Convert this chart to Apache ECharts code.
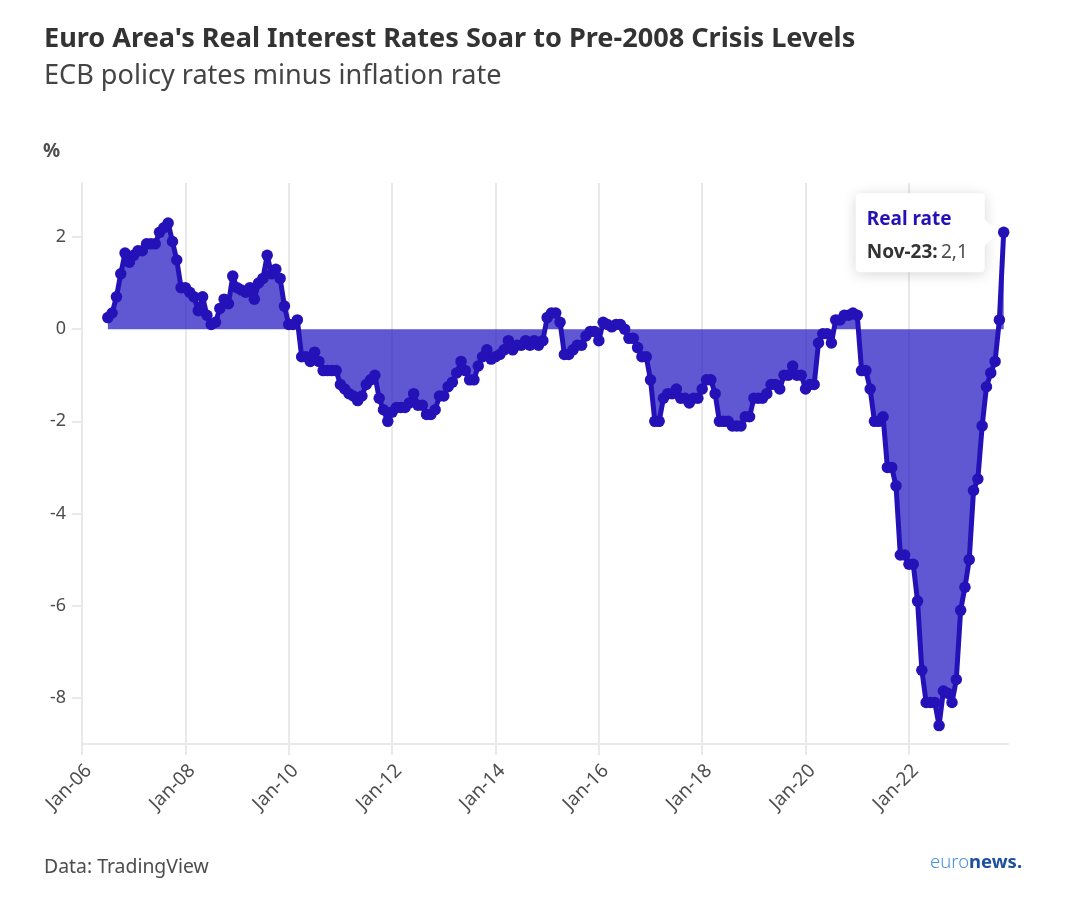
<!DOCTYPE html>
<html>
<head>
<meta charset="utf-8">
<title>Euro Area real interest rates</title>
<script src="https://cdn.jsdelivr.net/npm/echarts@6/dist/echarts.min.js"></script>
<style>
html, body { margin: 0; padding: 0; background: #fff; }
#chart { width: 1085px; height: 919px; }
</style>
</head>
<body>
<div id="chart"></div>
<script>
var titleText = "Euro Area's Real Interest Rates Soar to Pre-2008 Crisis Levels";
var subtitleText = 'ECB policy rates minus inflation rate';
var unitText = '%';
var sourceText = 'Data: TradingView';
var seriesName = 'Real rate';
var calloutLabel = 'Nov-23:';
var calloutValue = '2,1';

var monthNames = ['Jan', 'Feb', 'Mar', 'Apr', 'May', 'Jun', 'Jul', 'Aug', 'Sep', 'Oct', 'Nov', 'Dec'];
var years = ['06', '07', '08', '09', '10', '11', '12', '13', '14', '15', '16', '17', '18', '19', '20', '21', '22', '23'];
var yTicks = [-8, -6, -4, -2, 0, 2];

// nothing before Jul-06
var blank06 = [null, null, null, null, null, null];
var rate06 = [0.25, 0.35, 0.7, 1.2, 1.65, 1.45];
var rate07 = [1.6, 1.7, 1.7, 1.85, 1.85, 1.85, 2.1, 2.2, 2.3, 1.9, 1.5, 0.9];
var rate08 = [0.9, 0.8, 0.7, 0.4, 0.7, 0.3, 0.1, 0.15, 0.45, 0.65, 0.55, 1.15];
var rate09 = [0.9, 0.85, 0.8, 0.9, 0.65, 1.0, 1.1, 1.6, 1.2, 1.3, 1.1, 0.5];
var rate10 = [0.1, 0.1, 0.2, -0.6, -0.6, -0.7, -0.5, -0.7, -0.9, -0.9, -0.9, -0.9];
var rate11 = [-1.2, -1.3, -1.4, -1.45, -1.55, -1.45, -1.2, -1.1, -1.0, -1.5, -1.75, -2.0];
var rate12 = [-1.8, -1.7, -1.7, -1.7, -1.6, -1.4, -1.65, -1.65, -1.85, -1.85, -1.75, -1.45];
var rate13 = [-1.45, -1.25, -1.15, -0.95, -0.7, -0.9, -1.1, -1.1, -0.8, -0.6, -0.45, -0.65];
var rate14 = [-0.6, -0.55, -0.45, -0.25, -0.45, -0.35, -0.35, -0.25, -0.35, -0.25, -0.35, -0.25];
var rate15 = [0.25, 0.35, 0.35, 0.15, -0.55, -0.55, -0.45, -0.35, -0.35, -0.15, -0.05, -0.05];
var rate16 = [-0.25, 0.15, 0.1, 0.05, 0.1, 0.1, 0, -0.2, -0.2, -0.4, -0.6, -0.6];
var rate17 = [-1.1, -2.0, -2.0, -1.5, -1.4, -1.4, -1.3, -1.5, -1.5, -1.6, -1.5, -1.5];
var rate18 = [-1.3, -1.1, -1.1, -1.4, -2.0, -2.0, -2.0, -2.1, -2.1, -2.1, -1.9, -1.9];
var rate19 = [-1.5, -1.5, -1.5, -1.4, -1.2, -1.2, -1.3, -1.0, -1.0, -0.8, -1.0, -1.0];
var rate20 = [-1.3, -1.2, -1.2, -0.3, -0.1, -0.1, -0.3, 0.2, 0.2, 0.3, 0.3, 0.35];
var rate21 = [0.3, -0.9, -0.9, -1.3, -2.0, -2.0, -1.9, -3.0, -3.0, -3.4, -4.9, -4.9];
var rate22 = [-5.1, -5.1, -5.9, -7.4, -8.1, -8.1, -8.1, -8.6, -7.85, -7.9, -8.1, -7.6];
var rate23 = [-6.1, -5.6, -5.0, -3.5, -3.25, -2.1, -1.25, -0.95, -0.7, 0.2, 2.1, null];

var values = blank06.concat(rate06, rate07, rate08, rate09, rate10, rate11, rate12, rate13,
    rate14, rate15, rate16, rate17, rate18, rate19, rate20, rate21, rate22, rate23);

var categories = [];
years.forEach(function(y) {
    monthNames.forEach(function(m) {
        categories.push(m + '-' + y);
    });
});

var fontName = '"Noto Sans", sans-serif';
var inkDark = '#333333';
var inkMid = '#4d4d4d';
var lineColor = '#2412b8';
var ruleColor = '#e9e9e9';

var myChart = echarts.init(document.getElementById('chart'));

var option = {
    animation: false,
    backgroundColor: '#ffffff',
    textStyle: { fontFamily: fontName },
    title: [{
        text: titleText,
        left: 39,
        top: 21,
        textStyle: { fontFamily: fontName, fontSize: 27.1, fontWeight: 700, color: inkDark }
    }, {
        text: subtitleText,
        left: 39,
        top: 58,
        textStyle: { fontFamily: fontName, fontSize: 27.1, fontWeight: 400, color: '#444444' }
    }, {
        text: unitText,
        left: 38,
        top: 137,
        textStyle: { fontFamily: fontName, fontSize: 19, fontWeight: 700, color: inkMid }
    }, {
        text: sourceText,
        left: 39,
        top: 853,
        textStyle: { fontFamily: fontName, fontSize: 19.4, fontWeight: 400, color: inkMid }
    }],
    grid: { left: 82, right: 77, top: 183, bottom: 175, containLabel: false },
    xAxis: {
        type: 'category',
        data: categories,
        boundaryGap: false,
        axisLine: { show: true, onZero: false, lineStyle: { color: ruleColor, width: 2 } },
        axisTick: { show: true, interval: 23, length: 11, lineStyle: { color: ruleColor, width: 2 } },
        splitLine: { show: true, interval: 23, lineStyle: { color: ruleColor, width: 2 } },
        axisLabel: {
            interval: 23,
            rotate: 45,
            margin: 17,
            verticalAlign: 'top',
            fontSize: 19,
            color: inkMid,
            fontFamily: fontName
        }
    },
    yAxis: {
        type: 'value',
        min: -9,
        max: 3.17,
        axisLine: { show: true, lineStyle: { color: ruleColor, width: 2 } },
        axisTick: { show: true, length: 10, customValues: yTicks, lineStyle: { color: ruleColor, width: 2 } },
        splitLine: { show: false },
        axisLabel: {
            customValues: yTicks,
            margin: 16,
            fontSize: 18,
            color: inkMid,
            fontFamily: fontName
        }
    },
    series: [{
        name: seriesName,
        type: 'line',
        data: values,
        connectNulls: false,
        symbol: 'circle',
        symbolSize: 11.5,
        showAllSymbol: true,
        lineStyle: { color: lineColor, width: 5 },
        itemStyle: { color: lineColor },
        areaStyle: { color: '#2117c0', opacity: 0.72, origin: 0 }
    }]
};
myChart.setOption(option);

// callout hangs off the last point, logo sits bottom right
var lastIndex = categories.indexOf(calloutLabel.replace(':', ''));
var tip = myChart.convertToPixel({ seriesIndex: 0 }, [lastIndex, values[lastIndex]]);
var boxW = 129, boxH = 79;
var boxX = tip[0] - 148, boxY = tip[1] - 39;
myChart.setOption({
    graphic: [{
        type: 'rect',
        z: 100,
        shape: { x: boxX, y: boxY, width: boxW, height: boxH, r: 4 },
        style: { fill: '#ffffff', shadowBlur: 14, shadowColor: 'rgba(0,0,0,0.16)', shadowOffsetY: 2 }
    }, {
        type: 'polygon',
        z: 100,
        shape: { points: [[boxX + boxW - 1, tip[1] - 14], [tip[0] - 6, tip[1]], [boxX + boxW - 1, tip[1] + 15]] },
        style: { fill: '#ffffff' }
    }, {
        type: 'text',
        z: 101,
        x: boxX + 11,
        y: boxY + 17,
        style: { text: seriesName, font: '700 19px ' + fontName, fill: lineColor }
    }, {
        type: 'text',
        z: 101,
        x: boxX + 11,
        y: boxY + 50,
        style: {
            text: '{b|' + calloutLabel + '} {v|' + calloutValue + '}',
            rich: {
                b: { fill: inkDark, fontSize: 19, fontWeight: 700, fontFamily: fontName },
                v: { fill: inkMid, fontSize: 19, fontFamily: fontName }
            }
        }
    }, {
        type: 'text',
        z: 101,
        x: 930,
        y: 853,
        style: {
            text: '{a|euro}{b|news.}',
            rich: {
                a: { fill: '#4a90e2', fontSize: 18.5, fontWeight: 300, fontFamily: fontName },
                b: { fill: '#1c4f9c', fontSize: 18.5, fontWeight: 700, fontFamily: fontName }
            }
        }
    }]
});
</script>
</body>
</html>
